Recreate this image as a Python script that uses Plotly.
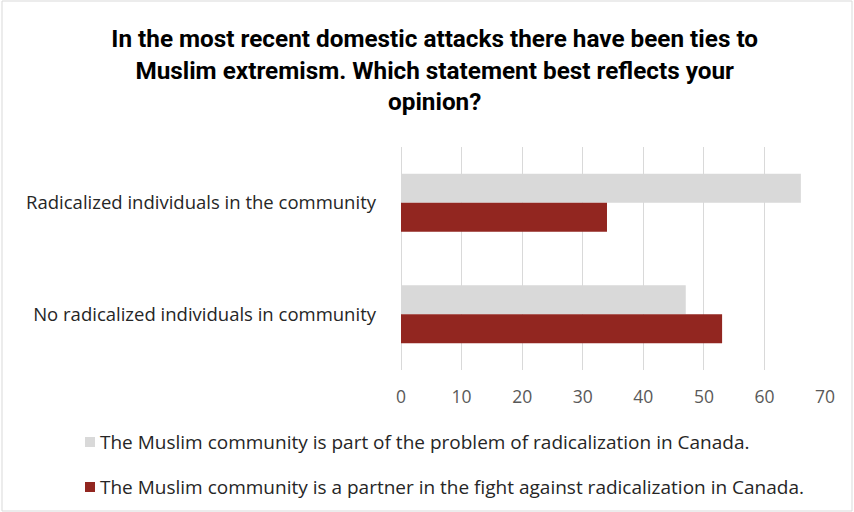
import plotly.graph_objects as go

categories = ["Radicalized individuals in the community", "No radicalized individuals in community"]
series_names = [
    "The Muslim community is part of the problem of radicalization in Canada.",
    "The Muslim community is a partner in the fight against radicalization in Canada.",
]
series_colors = ["#d9d9d9", "#922620"]
problem_values = [66, 47]
partner_values = [34, 53]
x_ticks = [0, 10, 20, 30, 40, 50, 60, 70]
title_text = ("In the most recent domestic attacks there have been ties to<br>"
              "Muslim extremism. Which statement best reflects your<br>opinion?")

FONT = "Open Sans, sans-serif"
TITLE_FONT = "Roboto, Open Sans, sans-serif"

W, H = 854, 512
L, R, T, B = 401, 28, 147, 142
PW, PH = W - L - R, H - T - B


def px_x(px):
    return (px - L) / PW


def px_y(py):
    return (H - B - py) / PH


fig = go.Figure()
for name, vals, col in zip(series_names, [problem_values, partner_values], series_colors):
    fig.add_trace(go.Bar(y=categories, x=vals, orientation="h", name=name,
                         marker=dict(color=col, line=dict(width=0)), showlegend=False))

fig.update_layout(
    width=W, height=H,
    margin=dict(l=L, r=R, t=T, b=B, autoexpand=False),
    paper_bgcolor="white", plot_bgcolor="white",
    barmode="group", bargap=0.48, bargroupgap=0,
    font=dict(family=FONT, size=17, color="#404040"),
    title=dict(text=title_text, x=0.509, xanchor="center", xref="container",
               y=0.908, yanchor="top", yref="container",
               font=dict(family=TITLE_FONT, size=24.3, color="#000000", weight="bold")),
    xaxis=dict(range=[0, 70.15], tickvals=x_ticks, showgrid=True, gridcolor="#d9d9d9", gridwidth=1,
               zeroline=True, zerolinecolor="#d9d9d9", zerolinewidth=1, showline=False,
               tickfont=dict(size=17.5, color="#595959"),
               ticklabelstandoff=14, fixedrange=True),
    yaxis=dict(autorange="reversed", showgrid=False, zeroline=False, showline=False,
               tickfont=dict(size=18.5, color="#262626"), ticklabelstandoff=24),
    showlegend=False,
)

# legend (manual, to keep its position fixed below the plot)
legend_y = [442, 487]
for name, col, ly in zip(series_names, series_colors, legend_y):
    fig.add_shape(type="rect", xref="paper", yref="paper",
                  x0=px_x(85), x1=px_x(95), y0=px_y(ly + 5), y1=px_y(ly - 5),
                  line=dict(width=0), fillcolor=col)
    fig.add_annotation(text=name, xref="paper", yref="paper", x=px_x(98), y=px_y(ly),
                       xanchor="left", yanchor="middle", showarrow=False,
                       font=dict(size=19, color="#262626", family=FONT))

fig.add_shape(type="rect", xref="paper", yref="paper",
              x0=px_x(2), x1=px_x(852), y0=px_y(511), y1=px_y(1),
              line=dict(color="#d9d9d9", width=1), fillcolor="rgba(0,0,0,0)", layer="below")

fig.write_html("out.html", config={"displayModeBar": False},
               post_script="document.body.style.margin='0';")
